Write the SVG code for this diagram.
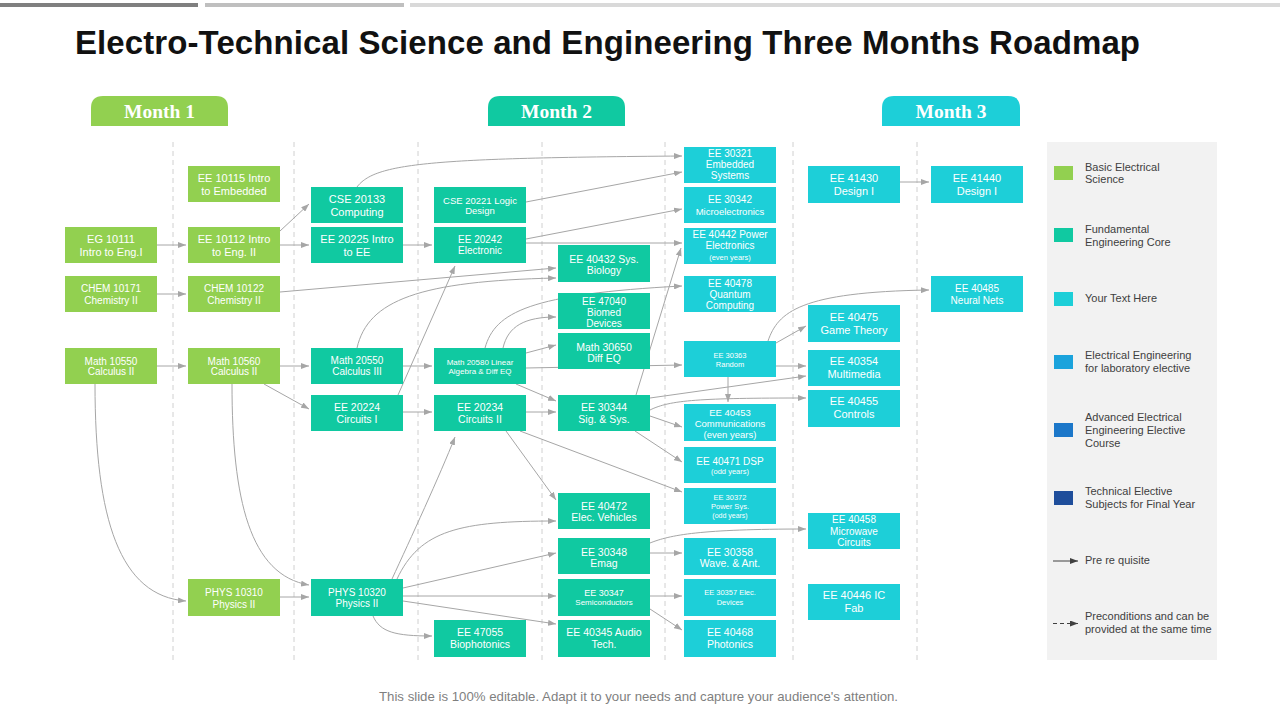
<svg xmlns="http://www.w3.org/2000/svg" width="1280" height="720" viewBox="0 0 1280 720">
<style>
.node text{font-family:"Liberation Sans",Arial,sans-serif;fill:#fff;text-anchor:middle}
.g rect{fill:#92d050}
.t rect{fill:#10c9a1}
.c rect{fill:#1dcfd8}
.f11{font-size:11px}.f105{font-size:10.5px}.f10{font-size:10px}.f95{font-size:9.5px}.f9{font-size:9px}.f8{font-size:8px}.f75{font-size:7.5px}.f7{font-size:7px}
#connectors path{fill:none;stroke:#a6a6a6;stroke-width:1;marker-end:url(#arr)}
.vdash{stroke:#c4c4c4;stroke-width:0.8;stroke-dasharray:5 4}
.month text{font-family:"Liberation Serif","Times New Roman",serif;font-weight:bold;font-size:19.5px;fill:#fff;text-anchor:middle}
.legend text{font-family:"Liberation Sans",Arial,sans-serif;font-size:11px;fill:#404040}
</style>
<defs>
<marker id="arr" viewBox="0 0 8 6" refX="8" refY="3" markerWidth="8" markerHeight="6" markerUnits="userSpaceOnUse" orient="auto"><path d="M0,0 L8,3 L0,6 z" fill="#a6a6a6"/></marker>
<marker id="arrd" viewBox="0 0 8 6" refX="8" refY="3" markerWidth="8" markerHeight="6" markerUnits="userSpaceOnUse" orient="auto"><path d="M0,0 L8,3 L0,6 z" fill="#404040"/></marker>
</defs>
<rect width="1280" height="720" fill="#fff"/>
<rect x="0" y="3" width="198" height="4" fill="#7f7f7f"/>
<rect x="205" y="3" width="199" height="4" fill="#bfbfbf"/>
<rect x="410" y="3" width="870" height="4" fill="#d9d9d9"/>
<text x="75" y="54" font-family="Liberation Sans,Arial,sans-serif" font-weight="bold" font-size="33" fill="#111" textLength="1065" lengthAdjust="spacing">Electro-Technical Science and Engineering Three Months Roadmap</text>

<g id="months" class="month">
<path d="M91,126 V108 Q91,96 103,96 H216 Q228,96 228,108 V126 Z" fill="#92d050"/>
<text x="159.5" y="118">Month 1</text>
<path d="M488,126 V108 Q488,96 500,96 H613 Q625,96 625,108 V126 Z" fill="#10c9a1"/>
<text x="556.5" y="118">Month 2</text>
<path d="M882,126 V108 Q882,96 894,96 H1008 Q1020,96 1020,108 V126 Z" fill="#1dcfd8"/>
<text x="951" y="118">Month 3</text>
</g>

<g id="grid">
<line class="vdash" x1="173" y1="142" x2="173" y2="662"/>
<line class="vdash" x1="294" y1="142" x2="294" y2="662"/>
<line class="vdash" x1="418" y1="142" x2="418" y2="662"/>
<line class="vdash" x1="542" y1="142" x2="542" y2="662"/>
<line class="vdash" x1="665" y1="142" x2="665" y2="662"/>
<line class="vdash" x1="793" y1="142" x2="793" y2="662"/>
<line class="vdash" x1="917" y1="142" x2="917" y2="662"/>
</g>

<g id="legend" class="legend">
<rect x="1047" y="142" width="170" height="518" fill="#f2f2f2"/>
<rect x="1054" y="166" width="19" height="14" fill="#92d050"/>
<text x="1085" y="170.5">Basic Electrical</text><text x="1085" y="183">Science</text>
<rect x="1054" y="228" width="19" height="14" fill="#10c9a1"/>
<text x="1085" y="233">Fundamental</text><text x="1085" y="245.5">Engineering Core</text>
<rect x="1054" y="292" width="19" height="14" fill="#1dcfd8"/>
<text x="1085" y="302">Your Text Here</text>
<rect x="1054" y="355" width="19" height="14" fill="#1ba3dc"/>
<text x="1085" y="359">Electrical Engineering</text><text x="1085" y="372">for laboratory elective</text>
<rect x="1054" y="423" width="19" height="14" fill="#1c77c9"/>
<text x="1085" y="421">Advanced Electrical</text><text x="1085" y="434">Engineering Elective</text><text x="1085" y="447">Course</text>
<rect x="1054" y="491" width="19" height="14" fill="#1f4e9b"/>
<text x="1085" y="495">Technical Elective</text><text x="1085" y="508">Subjects for Final Year</text>
<line x1="1053" y1="561" x2="1078" y2="561" stroke="#404040" stroke-width="1" marker-end="url(#arrd)"/>
<text x="1085" y="564">Pre re quisite</text>
<line x1="1053" y1="623.5" x2="1078" y2="623.5" stroke="#404040" stroke-width="1" stroke-dasharray="4 3" marker-end="url(#arrd)"/>
<text x="1085" y="620">Preconditions and can be</text><text x="1085" y="633">provided at the same time</text>
</g>

<g id="connectors">
<path d="M157 245 H186"/>
<path d="M157 294 H186"/>
<path d="M157 366 H186"/>
<path d="M95 384 C95 520 120 596 186 601"/>
<path d="M232 384 C232 500 250 575 309 585"/>
<path d="M280 366 H309"/>
<path d="M264 384 L309 409"/>
<path d="M280 597 H309"/>
<path d="M280 231 L309 204"/>
<path d="M280 245 H309"/>
<path d="M280 292 L556 268"/>
<path d="M357 187 C375 163 430 158 682 156"/>
<path d="M403 245 H432"/>
<path d="M526 202 L682 172"/>
<path d="M526 239 L682 209"/>
<path d="M526 243 H682"/>
<path d="M398 395 L455 266"/>
<path d="M357 348 C368 300 420 281 556 278"/>
<path d="M485 348 C495 312 530 294 682 286"/>
<path d="M503 348 C508 326 525 317 556 317"/>
<path d="M526 353 L556 345"/>
<path d="M526 368 L682 365"/>
<path d="M403 366 H432"/>
<path d="M403 412 H432"/>
<path d="M516 384 L556 401"/>
<path d="M526 412 H556"/>
<path d="M506 431 L556 500"/>
<path d="M520 431 L682 492"/>
<path d="M392 579 C410 540 440 475 455 437"/>
<path d="M397 579 C420 530 460 521 556 521"/>
<path d="M403 588 L556 553"/>
<path d="M403 596 H556"/>
<path d="M403 601 L556 624"/>
<path d="M373 616 C380 632 395 636 432 636"/>
<path d="M636 395 L681 248"/>
<path d="M650 398 L806 376"/>
<path d="M650 410 C670 400 700 398 806 398"/>
<path d="M650 416 L682 427"/>
<path d="M635 431 L682 462"/>
<path d="M728 377 V402"/>
<path d="M776 366 H806"/>
<path d="M776 343 L806 326"/>
<path d="M768 341 C778 312 800 292 929 290"/>
<path d="M900 182 H929"/>
<path d="M650 553 H682"/>
<path d="M650 543 C670 535 700 529 806 529"/>
<path d="M650 596 H682"/>
<path d="M650 609 L682 630"/>
</g>

<g id="n-eg10111" class="node g"><rect x="65" y="227" width="92" height="36"/><text class="f11"><tspan x="111" y="243">EG 10111</tspan><tspan x="111" y="256">Intro to Eng.I</tspan></text></g>
<g id="n-chem10171" class="node g"><rect x="65" y="276" width="92" height="36"/><text class="f10"><tspan x="111" y="292">CHEM 10171</tspan><tspan x="111" y="303.5">Chemistry II</tspan></text></g>
<g id="n-math10550" class="node g"><rect x="65" y="348" width="92" height="36"/><text class="f10"><tspan x="111" y="364.5">Math 10550</tspan><tspan x="111" y="375">Calculus II</tspan></text></g>

<g id="n-ee10115" class="node g"><rect x="188" y="166" width="92" height="36"/><text class="f11"><tspan x="234" y="182">EE 10115 Intro</tspan><tspan x="234" y="195">to Embedded</tspan></text></g>
<g id="n-ee10112" class="node g"><rect x="188" y="227" width="92" height="36"/><text class="f11"><tspan x="234" y="243">EE 10112 Intro</tspan><tspan x="234" y="256">to Eng. II</tspan></text></g>
<g id="n-chem10122" class="node g"><rect x="188" y="276" width="92" height="36"/><text class="f10"><tspan x="234" y="292">CHEM 10122</tspan><tspan x="234" y="303.5">Chemistry II</tspan></text></g>
<g id="n-math10560" class="node g"><rect x="188" y="348" width="92" height="36"/><text class="f10"><tspan x="234" y="364.5">Math 10560</tspan><tspan x="234" y="375">Calculus II</tspan></text></g>
<g id="n-phys10310" class="node g"><rect x="188" y="579" width="92" height="37"/><text class="f10"><tspan x="234" y="596">PHYS 10310</tspan><tspan x="234" y="607.5">Physics II</tspan></text></g>

<g id="n-cse20133" class="node t"><rect x="311" y="187" width="92" height="36"/><text class="f11"><tspan x="357" y="203.3">CSE 20133</tspan><tspan x="357" y="216">Computing</tspan></text></g>
<g id="n-ee20225" class="node t"><rect x="311" y="227" width="92" height="36"/><text class="f11"><tspan x="357" y="243.3">EE 20225 Intro</tspan><tspan x="357" y="256.3">to EE</tspan></text></g>
<g id="n-math20550" class="node t"><rect x="311" y="348" width="92" height="36"/><text class="f10"><tspan x="357" y="364.3">Math 20550</tspan><tspan x="357" y="375.3">Calculus III</tspan></text></g>
<g id="n-ee20224" class="node t"><rect x="311" y="395" width="92" height="36"/><text class="f105"><tspan x="357" y="411">EE 20224</tspan><tspan x="357" y="422.5">Circuits I</tspan></text></g>
<g id="n-phys10320" class="node t"><rect x="311" y="579" width="92" height="37"/><text class="f10"><tspan x="357" y="596">PHYS 10320</tspan><tspan x="357" y="607">Physics II</tspan></text></g>

<g id="n-cse20221" class="node t"><rect x="434" y="187" width="92" height="36"/><text class="f95"><tspan x="480" y="203.5">CSE 20221 Logic</tspan><tspan x="480" y="214">Design</tspan></text></g>
<g id="n-ee20242" class="node t"><rect x="434" y="227" width="92" height="36"/><text class="f10"><tspan x="480" y="243">EE 20242</tspan><tspan x="480" y="253.7">Electronic</tspan></text></g>
<g id="n-math20580" class="node t"><rect x="434" y="348" width="92" height="36"/><text class="f8"><tspan x="480" y="364.5">Math 20580  Linear</tspan><tspan x="480" y="374">Algebra  &amp; Diff EQ</tspan></text></g>
<g id="n-ee20234" class="node t"><rect x="434" y="395" width="92" height="36"/><text class="f105"><tspan x="480" y="411">EE 20234</tspan><tspan x="480" y="422.5">Circuits II</tspan></text></g>
<g id="n-ee47055" class="node t"><rect x="434" y="620" width="92" height="37"/><text class="f105"><tspan x="480" y="636">EE 47055</tspan><tspan x="480" y="647.5">Biophotonics</tspan></text></g>

<g id="n-ee40432" class="node t"><rect x="558" y="245" width="92" height="37"/><text class="f105"><tspan x="604" y="263">EE 40432 Sys.</tspan><tspan x="604" y="274">Biology</tspan></text></g>
<g id="n-ee47040" class="node t"><rect x="558" y="293" width="92" height="36"/><text class="f10"><tspan x="604" y="304.5">EE 47040</tspan><tspan x="604" y="315.5">Biomed</tspan><tspan x="604" y="326.5">Devices</tspan></text></g>
<g id="n-math30650" class="node t"><rect x="558" y="333" width="92" height="36"/><text class="f105"><tspan x="604" y="350.5">Math 30650</tspan><tspan x="604" y="361.5">Diff EQ</tspan></text></g>
<g id="n-ee30344" class="node t"><rect x="558" y="395" width="92" height="36"/><text class="f105"><tspan x="604" y="411">EE 30344</tspan><tspan x="604" y="422.5">Sig. &amp; Sys.</tspan></text></g>
<g id="n-ee40472" class="node t"><rect x="558" y="493" width="92" height="36"/><text class="f105"><tspan x="604" y="509.5">EE 40472</tspan><tspan x="604" y="520.5">Elec. Vehicles</tspan></text></g>
<g id="n-ee30348" class="node t"><rect x="558" y="538" width="92" height="36"/><text class="f105"><tspan x="604" y="555.5">EE 30348</tspan><tspan x="604" y="566.5">Emag</tspan></text></g>
<g id="n-ee30347" class="node t"><rect x="558" y="579" width="92" height="37"/><text><tspan class="f9" x="604" y="596">EE 30347</tspan><tspan class="f8" x="604" y="605">Semiconductors</tspan></text></g>
<g id="n-ee40345" class="node t"><rect x="558" y="620" width="92" height="37"/><text class="f105"><tspan x="604" y="636">EE 40345 Audio</tspan><tspan x="604" y="647.5">Tech.</tspan></text></g>

<g id="n-ee30321" class="node c"><rect x="684" y="147" width="92" height="36"/><text class="f10"><tspan x="730" y="157">EE 30321</tspan><tspan x="730" y="168">Embedded</tspan><tspan x="730" y="179">Systems</tspan></text></g>
<g id="n-ee30342" class="node c"><rect x="684" y="187" width="92" height="36"/><text><tspan class="f10" x="730" y="203">EE 30342</tspan><tspan class="f95" x="730" y="214.5">Microelectronics</tspan></text></g>
<g id="n-ee40442" class="node c"><rect x="684" y="228" width="92" height="36"/><text><tspan class="f10" x="730" y="237.7">EE 40442 Power</tspan><tspan class="f10" x="730" y="248.7">Electronics</tspan><tspan class="f75" x="730" y="259.5">(even years)</tspan></text></g>
<g id="n-ee40478" class="node c"><rect x="684" y="276" width="92" height="36"/><text class="f10"><tspan x="730" y="286.5">EE 40478</tspan><tspan x="730" y="297.5">Quantum</tspan><tspan x="730" y="308.5">Computing</tspan></text></g>
<g id="n-ee30363" class="node c"><rect x="684" y="341" width="92" height="36"/><text class="f75"><tspan x="730" y="358">EE 30363</tspan><tspan x="730" y="367">Random</tspan></text></g>
<g id="n-ee40453" class="node c"><rect x="684" y="404" width="92" height="37"/><text class="f95"><tspan x="730" y="415.5">EE 40453</tspan><tspan x="730" y="426.5">Communications</tspan><tspan x="730" y="437.5">(even years)</tspan></text></g>
<g id="n-ee40471" class="node c"><rect x="684" y="447" width="92" height="36"/><text><tspan class="f10" x="730" y="464.5">EE 40471 DSP</tspan><tspan class="f75" x="730" y="473.8">(odd years)</tspan></text></g>
<g id="n-ee30372" class="node c"><rect x="684" y="488" width="92" height="36"/><text><tspan class="f75" x="730" y="499.5">EE 30372</tspan><tspan class="f75" x="730" y="509">Power  Sys.</tspan><tspan class="f7" x="730" y="518">(odd years)</tspan></text></g>
<g id="n-ee30358" class="node c"><rect x="684" y="538" width="92" height="37"/><text class="f105"><tspan x="730" y="555.5">EE 30358</tspan><tspan x="730" y="566.5">Wave. &amp; Ant.</tspan></text></g>
<g id="n-ee30357" class="node c"><rect x="684" y="579" width="92" height="37"/><text class="f75"><tspan x="730" y="595">EE 30357  Elec.</tspan><tspan x="730" y="604.5">Devices</tspan></text></g>
<g id="n-ee40468" class="node c"><rect x="684" y="620" width="92" height="37"/><text class="f105"><tspan x="730" y="636">EE 40468</tspan><tspan x="730" y="647.5">Photonics</tspan></text></g>

<g id="n-ee41430" class="node c"><rect x="808" y="166" width="92" height="37"/><text class="f11"><tspan x="854" y="182.3">EE 41430</tspan><tspan x="854" y="195">Design I</tspan></text></g>
<g id="n-ee40475" class="node c"><rect x="808" y="305" width="92" height="37"/><text class="f11"><tspan x="854" y="320.5">EE 40475</tspan><tspan x="854" y="334">Game Theory</tspan></text></g>
<g id="n-ee40354" class="node c"><rect x="808" y="350" width="92" height="36"/><text class="f11"><tspan x="854" y="365.3">EE 40354</tspan><tspan x="854" y="378.3">Multimedia</tspan></text></g>
<g id="n-ee40455" class="node c"><rect x="808" y="390" width="92" height="37"/><text class="f11"><tspan x="854" y="405">EE 40455</tspan><tspan x="854" y="418">Controls</tspan></text></g>
<g id="n-ee40458" class="node c"><rect x="808" y="513" width="92" height="36"/><text class="f10"><tspan x="854" y="523">EE 40458</tspan><tspan x="854" y="534.5">Microwave</tspan><tspan x="854" y="545.5">Circuits</tspan></text></g>
<g id="n-ee40446" class="node c"><rect x="808" y="584" width="92" height="36"/><text class="f11"><tspan x="854" y="599">EE 40446 IC</tspan><tspan x="854" y="612.3">Fab</tspan></text></g>

<g id="n-ee41440" class="node c"><rect x="931" y="166" width="92" height="37"/><text class="f11"><tspan x="977" y="182.3">EE 41440</tspan><tspan x="977" y="195">Design I</tspan></text></g>
<g id="n-ee40485" class="node c"><rect x="931" y="276" width="92" height="36"/><text class="f10"><tspan x="977" y="292">EE 40485</tspan><tspan x="977" y="303.5">Neural Nets</tspan></text></g>

<text x="638.5" y="700.5" font-family="Liberation Sans,Arial,sans-serif" font-size="13" fill="#7f7f7f" text-anchor="middle" textLength="519" lengthAdjust="spacingAndGlyphs">This slide is 100% editable. Adapt it to your needs and capture your audience's attention.</text>
</svg>
